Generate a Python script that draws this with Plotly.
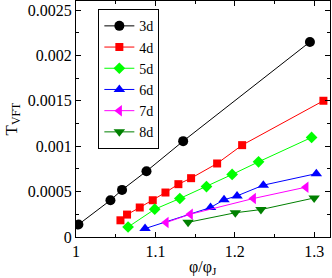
import plotly.graph_objects as go

series_names = ["3d", "4d", "5d", "6d", "7d", "8d"]
x_3d = [1.003, 1.0434, 1.058, 1.0888, 1.135, 1.2947]
y_3d = [0.000137, 0.000405, 0.000519, 0.000725, 0.001056, 0.002149]
x_4d = [1.056, 1.0643, 1.0803, 1.0967, 1.1127, 1.129, 1.145, 1.1778, 1.2093, 1.3117]
y_4d = [0.000184, 0.000247, 0.000325, 0.000405, 0.00049, 0.000582, 0.000648, 0.00081, 0.001012, 0.001501]
x_5d = [1.0656, 1.0992, 1.1308, 1.1644, 1.1967, 1.23, 1.2968]
y_5d = [0.00011, 0.000306, 0.000424, 0.000556, 0.000689, 0.000828, 0.001097]
x_6d = [1.087, 1.1695, 1.1865, 1.2029, 1.236, 1.3028]
y_6d = [0.0000927, 0.000325, 0.00041, 0.000453, 0.000571, 0.000698]
x_7d = [1.1135, 1.144, 1.2235, 1.2897]
y_7d = [0.000159, 0.000251, 0.000424, 0.000549]
x_8d = [1.1412, 1.2007, 1.233, 1.300]
y_8d = [0.000162, 0.000267, 0.000302, 0.00043]

x_tickvals = [1.0, 1.1, 1.2, 1.3]
x_ticktext = ["1", "1.1", "1.2", "1.3"]
y_tickvals = [0, 0.0005, 0.001, 0.0015, 0.002, 0.0025]
y_ticktext = ["0", "0.0005", "0.001", "0.0015", "0.002", "0.0025"]

xs = [x_3d, x_4d, x_5d, x_6d, x_7d, x_8d]
ys = [y_3d, y_4d, y_5d, y_6d, y_7d, y_8d]
colors = ["#000000", "#ff0000", "#00ff00", "#0000ff", "#ff00ff", "#008000"]
symbols = ["circle", "square", "diamond", "triangle-up", "triangle-left", "triangle-down"]
sizes = [10, 8, 9, 10, 10, 10]

fig = go.Figure()
for name, x, y, c, s, sz in zip(series_names, xs, ys, colors, symbols, sizes):
    fig.add_trace(go.Scatter(
        x=x, y=y, name=name, mode="lines+markers",
        line=dict(color=c, width=1),
        marker=dict(color=c, symbol=s, size=sz, line=dict(width=0)),
    ))

font_family = "Liberation Serif"
axis_common = dict(
    showline=True, linecolor="black", linewidth=1, mirror="allticks",
    ticks="inside", ticklen=5, tickcolor="black", tickwidth=1,
    showgrid=False, zeroline=False,
    tickfont=dict(family=font_family, size=16, color="black"),
)
fig.update_xaxes(range=[1.0, 1.32], tickvals=x_tickvals, ticktext=x_ticktext,
                 minor=dict(ticks="inside", ticklen=3, dtick=0.05, tick0=1.0,
                            tickcolor="black", showgrid=False),
                 **axis_common)
fig.update_yaxes(range=[0, 0.0026], tickvals=y_tickvals, ticktext=y_ticktext,
                 minor=dict(ticks="inside", ticklen=3, dtick=0.00025, tick0=0,
                            tickcolor="black", showgrid=False),
                 **axis_common)

fig.update_layout(
    width=332, height=278,
    margin=dict(l=76, r=2, t=1, b=41),
    paper_bgcolor="white", plot_bgcolor="white",
    font=dict(family=font_family, size=16, color="black"),
    showlegend=True,
    legend=dict(x=0.088, y=0.965, xanchor="left", yanchor="top",
                bordercolor="black", borderwidth=1, bgcolor="white",
                font=dict(family=font_family, size=14, color="black"),
                tracegroupgap=0, itemwidth=30),
    annotations=[
        dict(text="T<sub>VFT</sub>", xref="paper", yref="paper", x=-0.25, y=0.5,
             xanchor="center", yanchor="middle", textangle=-90, showarrow=False,
             font=dict(family=font_family, size=17, color="black")),
        dict(text="φ/φ<sub>J</sub>", xref="paper", yref="paper", x=0.5, y=-0.08,
             xanchor="center", yanchor="top", showarrow=False,
             font=dict(family=font_family, size=16, color="black")),
    ],
)

fig.write_html("out.html", config={"displayModeBar": False},
               post_script="document.body.style.margin='0';")
